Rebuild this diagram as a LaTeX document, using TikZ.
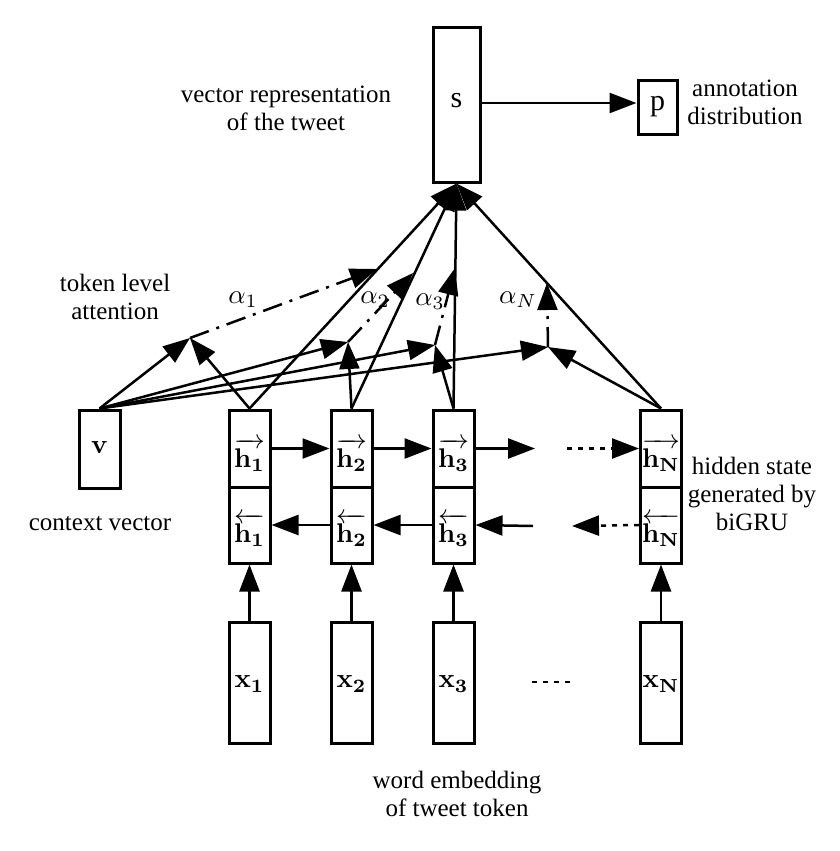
\documentclass[tikz,border=0pt]{standalone}
\usepackage{amsmath}
\usepackage[no-math]{fontspec}
\setmainfont{Liberation Serif}
\usetikzlibrary{arrows.meta}
\begin{document}
\begin{tikzpicture}[x=1pt,y=-1pt,
  box/.style={draw, line width=3pt, minimum width=41pt, inner sep=0pt},
  arr/.style={line width=2.5pt, -{Triangle[length=27pt,width=20pt]}},
  dd/.style={arr, dash pattern=on 20pt off 8pt on 3pt off 8pt},
  dt/.style={arr, dash pattern=on 5pt off 6pt},
  lbl/.style={font=\fontsize{25}{28}\selectfont, align=center, inner sep=0pt},
  mth/.style={scale=2.7, inner sep=0pt},
  big/.style={font=\fontsize{30}{32}\selectfont, inner sep=0pt}
]
\useasboundingbox (0,0) rectangle (840,851);

% boxes
\node[box, minimum width=47pt, minimum height=154pt] (s) at (456.5,105) {};
\node[big] (ts) at (456.5,101) {s};
\node[box, minimum width=39pt, minimum height=54pt] (p) at (657.5,107) {};
\node[big] (tp) at (657.5,107) {p};
\node[box, minimum height=78pt] (v) at (99.5,449) {};
\node[mth] (tv) at (99.5,447) {$\mathbf{v}$};

\foreach \i/\cx/\sub in {1/249.5/1, 2/351.5/2, 3/453.5/3, N/661/N}{
  \node[box, minimum height=77pt] (hf\i) at (\cx,448.5) {};
  \node[box, minimum height=76pt] (hb\i) at (\cx,525) {};
  \node[box, minimum height=121pt] (x\i) at (\cx,682.5) {};
  \node[mth] (thf\i) at (\cx,455) {$\overrightarrow{\mathbf{h_{\sub}}}$};
  \node[mth] (thb\i) at (\cx,530) {$\overleftarrow{\mathbf{h_{\sub}}}$};
  \node[mth] (tx\i) at (\cx,684) {$\mathbf{x_{\sub}}$};
  \draw[arr] (x\i.north) -- (hb\i.south);
}

% labels
\node[lbl] (vecrep) at (286,108) {vector representation\\of the tweet};
\node[lbl] (annot) at (745,102) {annotation\\distribution};
\node[lbl] (tokatt) at (115,297) {token level\\attention};
\node[lbl] (ctx) at (100,524) {context vector};
\node[lbl] (hidden) at (752,494) {hidden state\\generated by\\biGRU};
\node[lbl] (wordemb) at (457,794) {word embedding\\of tweet token};

% s -> p
\draw[arr] (s.east |- 0,103) -- (p.west |- 0,103);

% forward chain
\coordinate (f3end) at (535,448.5);
\coordinate (fdots) at (567,448.5);
\draw[arr] (hf1.east) -- (hf2.west);
\draw[arr] (hf2.east) -- (hf3.west);
\draw[arr] (hf3.east) -- (f3end);
\draw[dt] (fdots) -- (hfN.west);

% backward chain
\coordinate (b3start) at (533,526);
\coordinate (bNend) at (572,526);
\draw[arr] (hb2.west) -- (hb1.east);
\draw[arr] (hb3.west) -- (hb2.east);
\draw[arr] (b3start) -- (hb3.east);
\draw[dt] (hbN.west) -- (bNend);

% x dots
\draw[line width=2.5pt, dash pattern=on 5pt off 6pt] (532,682) -- (572,682);

% attention junctions
\coordinate (J1) at (190,338);
\coordinate (J2) at (348,342);
\coordinate (J3) at (435,345);
\coordinate (JN) at (548,347);
\coordinate (E1) at (377,269);
\coordinate (E2) at (413,273);
\coordinate (E3) at (455,268);
\coordinate (EN) at (547,283);

\draw[arr] (v.north) -- (J1);
\draw[arr] (v.north) -- (J2);
\draw[arr] (v.north) -- (J3);
\draw[arr] (v.north) -- (JN);
\draw[arr] (hf1.north) -- (J1);
\draw[arr] (hf2.north) -- (J2);
\draw[arr] (hf3.north) -- (J3);
\draw[arr] (hfN.north) -- (JN);

\draw[dd] (J1) -- (E1);
\draw[dd] (J2) -- (E2);
\draw[dd] (J3) -- (E3);
\draw[dd] (JN) -- (EN);

\node[mth] (a1) at (243,300) {$\alpha_1$};
\node[mth] (a2) at (375,300) {$\alpha_2$};
\node[mth] (a3) at (430,302) {$\alpha_3$};
\node[mth] (aN) at (518,300) {$\alpha_N$};

% to s
\draw[arr] (hf1.north) -- (s.south);
\draw[arr] (hf2.north) -- (s.south);
\draw[arr] (hf3.north) -- (s.south);
\draw[arr] (hfN.north) -- (s.south);
\end{tikzpicture}
\end{document}
